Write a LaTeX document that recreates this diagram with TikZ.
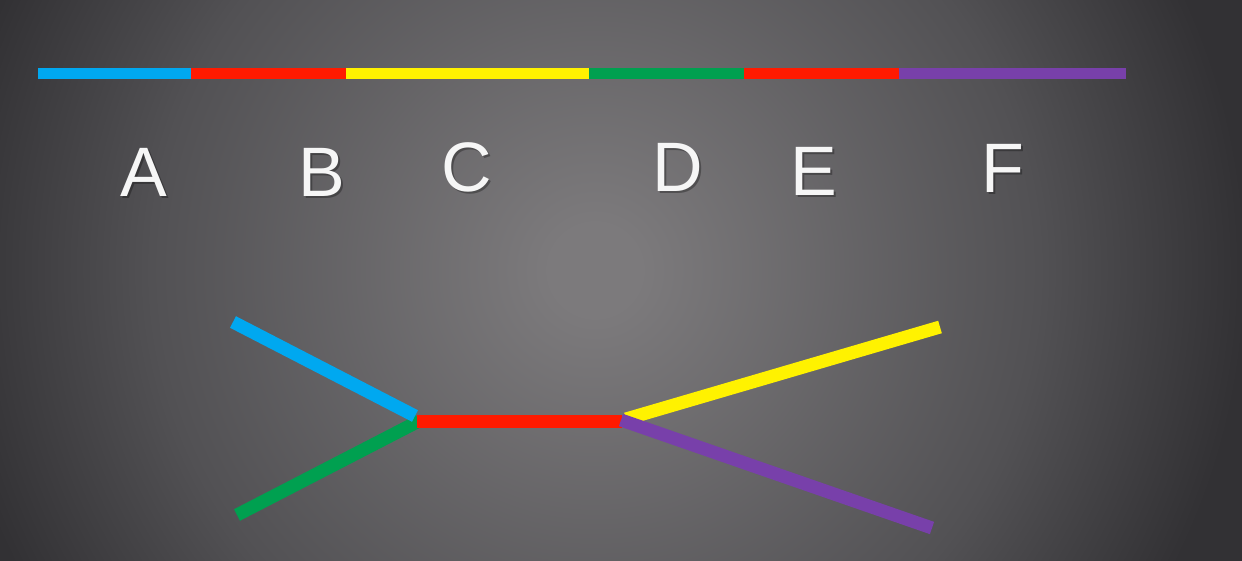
\documentclass[tikz,border=0pt]{standalone}
\usepackage{fontspec}
\setmainfont{Liberation Sans}
\definecolor{bgin}{RGB}{124,122,124}
\definecolor{bgmid}{RGB}{82,81,84}
\definecolor{bgout}{RGB}{50,49,52}
\definecolor{cblue}{RGB}{0,168,240}
\definecolor{cred}{RGB}{255,26,0}
\definecolor{cyellow}{RGB}{255,242,0}
\definecolor{cgreen}{RGB}{0,160,80}
\definecolor{cpurple}{RGB}{120,64,170}
\definecolor{ctext}{RGB}{246,246,246}
\pgfdeclareradialshading{bgshade}{\pgfpoint{0bp}{0bp}}{color(0bp)=(bgin); color(1.5bp)=(bgin); color(15bp)=(bgmid); color(22bp)=(bgout); color(50bp)=(bgout)}
\tikzset{
  barseg/.style={line width=10.5pt, line cap=butt},
  treeseg/.style={line width=13pt, line cap=butt},
  letter/.style={font=\fontsize{70pt}{70pt}\selectfont, text=ctext, anchor=base, inner sep=0pt},
  lettershadow/.style={font=\fontsize{70pt}{70pt}\selectfont, text=black, opacity=0.3, anchor=base, inner sep=0pt}
}
\begin{document}
\begin{tikzpicture}[x=1pt,y=-1pt]
\useasboundingbox (0,0) rectangle (1242,561);
\begin{scope}
\clip (0,0) rectangle (1242,561);
\shade[shading=bgshade] (595,270) circle (740pt);
\end{scope}
% top bar
\coordinate (t0) at (38,73.5);
\coordinate (t1) at (191,73.5);
\coordinate (t2) at (346,73.5);
\coordinate (t3) at (589,73.5);
\coordinate (t4) at (744,73.5);
\coordinate (t5) at (899,73.5);
\coordinate (t6) at (1126,73.5);
\draw[barseg, cblue] (t0) -- (t1);
\draw[barseg, cred] (t1) -- (t2);
\draw[barseg, cyellow] (t2) -- (t3);
\draw[barseg, cgreen] (t3) -- (t4);
\draw[barseg, cred] (t4) -- (t5);
\draw[barseg, cpurple] (t5) -- (t6);
% labels
\foreach \n/\x/\y in {A/144/197, B/322/197, C/467/192, D/678/192, E/814/196, F/1003/193}{
  \node[lettershadow] at (\x+1.5,\y+1.5) {\n};
  \node[letter] (L\n) at (\x,\y) {\n};
}
% tree
\coordinate (ja) at (417,421);
\coordinate (jb) at (622,421);
\coordinate (eblue) at (233,322);
\coordinate (egreen) at (237,515);
\coordinate (eyellow) at (940,327);
\coordinate (epurple) at (932,528);
\coordinate (jblue) at (415,416);
\coordinate (jgreen) at (419,421);
\coordinate (jyellow) at (626,419);
\coordinate (jpurple) at (621,420);
\draw[treeseg, cgreen] (egreen) -- (jgreen);
\draw[treeseg, cblue] (eblue) -- (jblue);
\draw[treeseg, cred] (ja) -- (jb);
\draw[treeseg, cyellow] (jyellow) -- (eyellow);
\draw[treeseg, cpurple] (jpurple) -- (epurple);
\end{tikzpicture}
\end{document}
